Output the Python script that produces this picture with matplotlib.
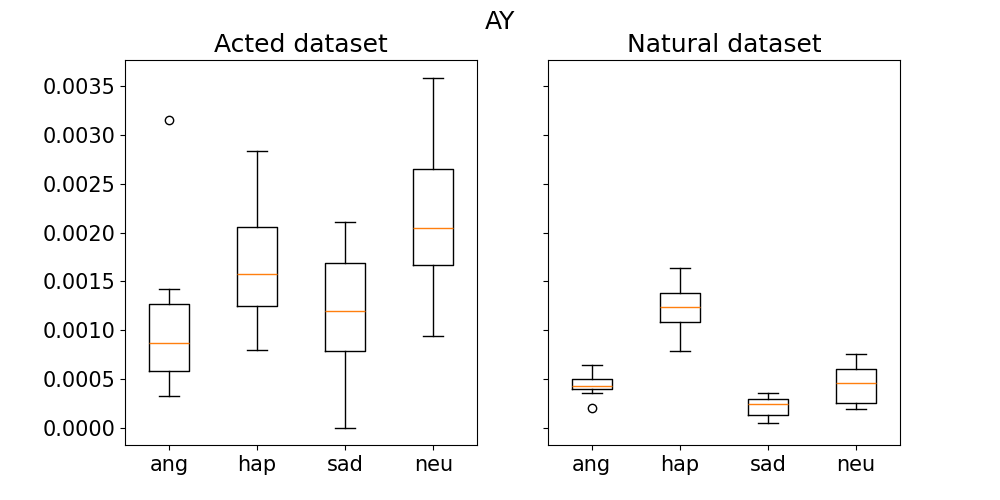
import matplotlib
matplotlib.use("Agg")
import matplotlib.pyplot as plt

labels = ['ang', 'hap', 'sad', 'neu']

# box stats: whislo, q1, med, q3, whishi, fliers
acted_whislo = [0.000328, 0.00079, 0.0, 0.000936]
acted_q1 = [0.000584, 0.00125, 0.00078, 0.00167]
acted_med = [0.000871, 0.00157, 0.00119, 0.00205]
acted_q3 = [0.00127, 0.00206, 0.00169, 0.00265]
acted_whishi = [0.001425, 0.00284, 0.00211, 0.00359]
acted_fliers = [[0.00315], [], [], []]

natural_whislo = [0.000359, 0.00078, 0.000044, 0.000185]
natural_q1 = [0.0004, 0.00108, 0.000126, 0.000256]
natural_med = [0.000423, 0.00124, 0.000236, 0.000461]
natural_q3 = [0.0005, 0.00138, 0.000297, 0.000595]
natural_whishi = [0.000636, 0.00164, 0.000349, 0.000749]
natural_fliers = [[0.000195], [], [], []]


def make_stats(lo, q1, med, q3, hi, fl):
    stats = []
    for i in range(len(labels)):
        stats.append({'label': labels[i], 'whislo': lo[i], 'q1': q1[i], 'med': med[i],
                      'q3': q3[i], 'whishi': hi[i], 'fliers': fl[i]})
    return stats


fig, (ax1, ax2) = plt.subplots(1, 2, figsize=(10, 5), sharey=True)
ax1.bxp(make_stats(acted_whislo, acted_q1, acted_med, acted_q3, acted_whishi, acted_fliers))
ax2.bxp(make_stats(natural_whislo, natural_q1, natural_med, natural_q3, natural_whishi, natural_fliers))

ax1.set_title('Acted dataset', fontsize=18)
ax2.set_title('Natural dataset', fontsize=18)
for ax in (ax1, ax2):
    ax.tick_params(labelsize=15)
fig.suptitle('AY', fontsize=18)

fig.savefig('out.png', dpi=100)
